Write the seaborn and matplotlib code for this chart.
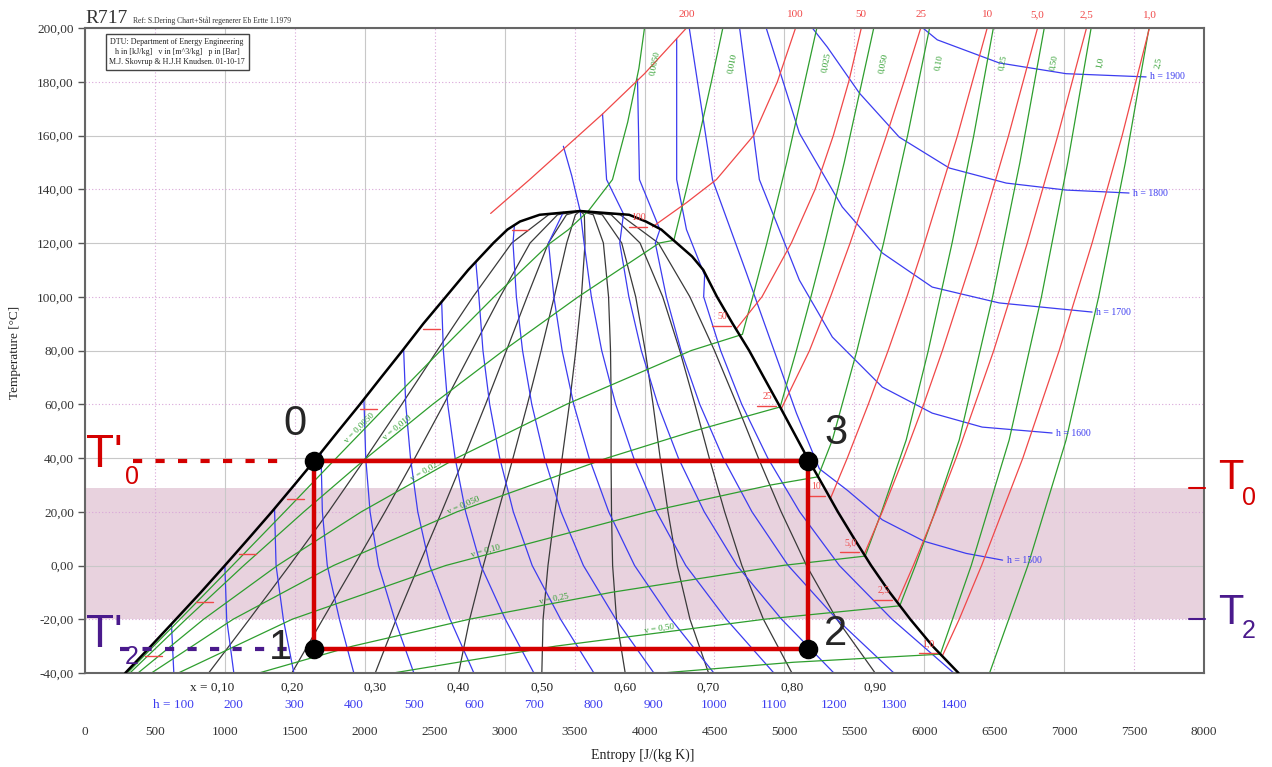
import numpy as np
import pandas as pd
import seaborn as sns
import matplotlib.pyplot as plt

sns.set_style('white')
plt.rcParams['font.family'] = ['Liberation Serif', 'DejaVu Serif']

# ---- saturation dome, s in J/(kg K), T in degC ----
liq_T = [-40, -30, -20, -10, 0, 10, 20, 30, 40, 50, 60, 70, 80, 90, 100, 110, 120, 125, 128, 130.5, 131.9]
liq_s = [288, 471, 650, 828, 1000, 1169, 1336, 1497, 1656, 1810, 1966, 2117, 2270, 2419, 2580, 2740, 2920, 3020, 3110, 3250, 3540]
vap_T = [131.9, 130.5, 128, 125, 120, 115, 110, 100, 90, 80, 70, 60, 50, 40, 30, 20, 10, 0, -10, -20, -30, -40]
vap_s = [3540, 3890, 4010, 4120, 4230, 4340, 4420, 4518, 4630, 4748, 4853, 4959, 5062, 5165, 5274, 5382, 5499, 5620, 5753, 5900, 6060, 6245]

# ---- quality lines ----
quality_labels = ['0,10', '0,20', '0,30', '0,40', '0,50', '0,60', '0,70', '0,80', '0,90']
quality_T = [-40, -20, 0, 20, 40, 60, 80, 100, 120, 130.5, 131.9]
quality_s = [
    [884, 1175, 1462, 1741, 2007, 2265, 2518, 2774, 3051, 3314, 3540],
    [1479, 1700, 1924, 2145, 2358, 2565, 2766, 2968, 3182, 3378, 3540],
    [2075, 2225, 2386, 2550, 2709, 2864, 3013, 3161, 3313, 3442, 3540],
    [2671, 2750, 2848, 2954, 3060, 3163, 3261, 3355, 3444, 3506, 3540],
    [3266, 3275, 3310, 3359, 3411, 3463, 3509, 3549, 3575, 3570, 3540],
    [3862, 3800, 3772, 3764, 3761, 3762, 3757, 3743, 3706, 3634, 3540],
    [4458, 4325, 4234, 4168, 4112, 4061, 4005, 3937, 3837, 3698, 3540],
    [5054, 4850, 4696, 4573, 4463, 4360, 4252, 4130, 3968, 3762, 3540],
    [5649, 5375, 5158, 4977, 4814, 4660, 4500, 4324, 4099, 3826, 3540],
]

# ---- isenthalps h = 100 .. 1400 kJ/kg (two-phase part) ----
h_levels = [100, 200, 300, 400, 500, 600, 700, 800, 900, 1000, 1100, 1200, 1300, 1400]
h_s = [
    [635, 618],
    [1064, 1013, 1000],
    [1493, 1418, 1366, 1355],
    [1922, 1819, 1732, 1697, 1687],
    [2351, 2214, 2098, 2038, 2007, 1994],
    [2780, 2610, 2464, 2379, 2327, 2293, 2278],
    [3209, 3005, 2830, 2721, 2646, 2593, 2562, 2550],
    [3638, 3400, 3197, 3062, 2965, 2893, 2845, 2816, 2794],
    [4067, 3795, 3563, 3403, 3285, 3194, 3128, 3084, 3060, 3070],
    [4496, 4190, 3929, 3744, 3604, 3494, 3411, 3352, 3314, 3420],
    [4925, 4585, 4295, 4086, 3923, 3794, 3694, 3620, 3568, 3540, 3480, 3420],
    [5354, 4980, 4661, 4427, 4242, 4095, 3977, 3888, 3823, 3850, 3729, 3700],
    [5783, 5375, 5027, 4768, 4562, 4395, 4261, 4156, 4077, 4110, 3964, 3950],
    [6211, 5770, 5393, 5109, 4881, 4695, 4544, 4423, 4430, 4300, 4230, 4230],
]
h_T = [
    [-40, -21.8],
    [-40, -20, 0],
    [-40, -20, 0, 21.2],
    [-40, -20, 0, 20, 42],
    [-40, -20, 0, 20, 40, 61.8],
    [-40, -20, 0, 20, 40, 60, 80.5],
    [-40, -20, 0, 20, 40, 60, 80, 98],
    [-40, -20, 0, 20, 40, 60, 80, 100, 113],
    [-40, -20, 0, 20, 40, 60, 80, 100, 120, 126.7],
    [-40, -20, 0, 20, 40, 60, 80, 100, 120, 131.5],
    [-40, -20, 0, 20, 40, 60, 80, 100, 120, 131.9, 145, 156],
    [-40, -20, 0, 20, 40, 60, 80, 100, 120, 130.8, 143.6, 168],
    [-40, -20, 0, 20, 40, 60, 80, 100, 120, 125, 143.6, 181],
    [-40, -20, 0, 20, 40, 60, 80, 100, 108, 125, 143.6, 196],
]

# ---- isenthalps in the superheated region ----
hs_levels = [1500, 1600, 1700, 1800, 1900]
hs_s = [
    [4320, 4486, 4729, 5086, 5250, 5450, 5700, 6000, 6300, 6560],
    [4680, 4821, 5107, 5343, 5700, 6057, 6414, 6914],
    [4870, 5107, 5414, 5700, 6057, 6536, 7200],
    [5200, 5307, 5536, 5821, 6179, 6586, 7014, 7464],
    [5990, 6093, 6536, 7014, 7586],
]
hs_T = [
    [200, 143.6, 108.8, 56.7, 36, 28, 17, 9, 4.5, 2],
    [200, 143.6, 106.2, 85, 66.4, 56.7, 51.5, 49.3],
    [200, 160.9, 133.4, 116.3, 103.6, 97.7, 94.3],
    [200, 192.9, 175.8, 159.4, 147.9, 142.3, 139.7, 138.6],
    [200, 195.6, 187, 183, 181.8],
]

# ---- isobars, p in bar ----
p_labels = ['1,0', '2,5', '5,0', '10', '25', '50', '100', '200']
p_s = [
    [6130, 6250, 6410, 6705, 6965, 7200, 7415, 7610],
    [5807, 5922, 6080, 6228, 6497, 6737, 6955, 7160],
    [5570, 5700, 5852, 5996, 6130, 6378, 6603, 6810],
    [5329, 5450, 5600, 5742, 5876, 6002, 6238, 6450],
    [4977, 5180, 5330, 5470, 5600, 5730, 5855, 5975],
    [4656, 4840, 5050, 5220, 5350, 5460, 5550],
    [4057, 4300, 4514, 4780, 4950, 5080],
    [2900, 3179, 3700, 4000, 4300],
]
p_T = [
    [-33.6, -20, 0, 40, 80, 120, 160, 200],
    [-13.7, 0, 20, 40, 80, 120, 160, 200],
    [4.1, 20, 40, 60, 80, 120, 160, 200],
    [24.9, 40, 60, 80, 100, 120, 160, 200],
    [58.2, 80, 100, 120, 140, 160, 180, 200],
    [88, 100, 120, 140, 160, 180, 200],
    [126, 135, 143.6, 160, 180, 200],
    [131, 143.6, 168, 183, 200],
]
# saturation points of the subcritical isobars (marks on the dome)
p_sat_T = [-33.6, -13.7, 4.1, 24.9, 58.2, 88, 125]
p_sat_liq = [398, 763, 1069, 1414, 1938, 2390, 3020]
p_sat_vap = [6130, 5807, 5570, 5329, 4977, 4656, 4057]

# ---- isochores, v in m3/kg ----
v_labels = ['0,0050', '0,010', '0,025', '0,050', '0,10', '0,25', '0,50', '1,0', '2,5']
v_s = [
    [302, 679, 1055, 1428, 1797, 2168, 2543, 2925, 3327, 3457, 3600, 3771, 3880, 3960, 4000],
    [321, 722, 1135, 1565, 2012, 2486, 2992, 3527, 4106, 4210, 4300, 4392, 4478, 4560],
    [379, 848, 1376, 1976, 2658, 3443, 4335, 4700, 4774, 4875, 5017, 5232],
    [475, 1059, 1777, 2661, 3733, 4350, 4970, 5086, 5190, 5289, 5428, 5639],
    [667, 1481, 2579, 4030, 4908, 5240, 5343, 5519, 5709, 5881, 6038],
    [1243, 1914, 2747, 3763, 4986, 5578, 5695, 5871, 6029, 6199, 6354, 6494],
    [2203, 3366, 4856, 5825, 5937, 6077, 6250, 6489, 6684, 6858],
    [4124, 5066, 6115, 6336, 6607, 6838, 7026, 7193],
    [6467, 6741, 7014, 7247, 7438, 7607],
]
v_T = [
    [-40, -20, 0, 20, 40, 60, 80, 100, 120, 125, 132, 143.6, 165, 185, 200],
    [-40, -20, 0, 20, 40, 60, 80, 100, 120, 121, 140, 160, 180, 200],
    [-40, -20, 0, 20, 40, 60, 80, 86, 100, 120, 150, 200],
    [-40, -20, 0, 20, 40, 50, 59, 80, 100, 120, 150, 200],
    [-40, -20, 0, 20, 30, 33, 46.7, 80, 120, 160, 200],
    [-40, -30, -20, -10, 0, 3.5, 20, 46.7, 80, 120, 160, 200],
    [-40, -30, -20, -15, 0, 20, 46.7, 100, 150, 200],
    [-40, -36, -33, 0, 46.7, 100, 150, 200],
    [-40, 0, 46.7, 100, 150, 200],
]

# ---- cycle and temperature band ----
cycle_names = ['0', '1', '2', '3']
cycle_s = [1640, 1640, 5170, 5170]
cycle_T = [39, -31, -31, 39]
band_T = [-20, 29]

RED = '#d40000'
PURPLE = '#4a1a8c'
C_Q = '#3a3a3a'
C_H = '#3c3cf0'
C_V = '#2e9e2e'
C_P = '#f04848'


def long_frame(names, s_lists, t_lists):
    rows = []
    for n, ss, tt in zip(names, s_lists, t_lists):
        for s, t in zip(ss, tt):
            rows.append((str(n), s, t))
    return pd.DataFrame(rows, columns=['curve', 's', 'T'])


fig = plt.figure(figsize=(12.72, 7.67), dpi=100)
ax = fig.add_axes([85 / 1272, 94 / 767, 1119 / 1272, 645 / 767])
ax.set_xlim(0, 8000)
ax.set_ylim(-40, 200)

ax.axhspan(band_T[0], band_T[1], color='#e8d2de', lw=0, zorder=0.5)
for s in range(0, 8001, 500):
    if s % 1000 == 0:
        ax.axvline(s, color='#c8c8c8', lw=0.8, zorder=0.6)
    else:
        ax.axvline(s, color='#d9a6d9', lw=0.8, ls=(0, (1, 2)), zorder=0.6)
for t in range(-40, 201, 20):
    if t % 40 == 0:
        ax.axhline(t, color='#c8c8c8', lw=0.8, zorder=0.6)
    else:
        ax.axhline(t, color='#d9a6d9', lw=0.8, ls=(0, (1, 2)), zorder=0.6)

common = dict(x='s', y='T', units='curve', estimator=None, sort=False, legend=False, ax=ax)
sns.lineplot(data=long_frame(quality_labels, quality_s, [quality_T] * 9), color=C_Q, lw=0.9, zorder=2, **common)
sns.lineplot(data=long_frame(h_levels, h_s, h_T), color=C_H, lw=0.9, zorder=2, **common)
sns.lineplot(data=long_frame(hs_levels, hs_s, hs_T), color=C_H, lw=0.9, zorder=2, **common)
sns.lineplot(data=long_frame(v_labels, v_s, v_T), color=C_V, lw=0.9, zorder=2, **common)
sns.lineplot(data=long_frame(p_labels, p_s, p_T), color=C_P, lw=0.9, zorder=2, **common)
sns.lineplot(data=long_frame(['liq', 'vap'], [liq_s, vap_s], [liq_T, vap_T]), color='black', lw=1.8, zorder=3, **common)

# isobar marks on the dome
for lab, t, sl, sv in zip(p_labels, p_sat_T, p_sat_liq, p_sat_vap):
    ax.plot([sl + 30, sl + 150], [t, t], color=C_P, lw=1.0, zorder=2.5)
    ax.plot([sv - 170, sv - 40], [t + 1, t + 1], color=C_P, lw=1.0, zorder=2.5)
    ax.text(sv - 100, t + 4.5, lab, color=C_P, fontsize=7, ha='center', va='center', zorder=4)
for lab, ss in zip(p_labels, p_s):
    ax.text(ss[-1], 205, lab, color=C_P, fontsize=8, ha='center', va='center', clip_on=False)

# isochore labels
for lab, ss in zip(v_labels, v_s):
    ax.text(ss[-1] + 30, 187, lab, color=C_V, fontsize=6.5, rotation=78, ha='left', va='center')
v_inner = [(1983, 50, 45), (2249, 50, 39), (2453, 34, 30), (2715, 21, 23), (2869, 4, 15), (3357, -14, 11), (4111, -25, 8)]
for lab, (s, t, r) in zip(v_labels, v_inner):
    ax.text(s, t, 'v = ' + lab, color=C_V, fontsize=6.5, rotation=r, ha='center', va='bottom',
            rotation_mode='anchor', zorder=4)

# isenthalp labels
for h, ss, tt in zip(hs_levels, hs_s, hs_T):
    ax.text(ss[-1] + 30, tt[-1], 'h = %d' % h, color=C_H, fontsize=7, ha='left', va='center')
for i, (h, ss) in enumerate(zip(h_levels, h_s)):
    ax.text(ss[0], -51.9, ('h = %d' % h) if i == 0 else str(h), color=C_H, fontsize=9.5,
            ha='center', va='center', clip_on=False)
for i, (lab, ss) in enumerate(zip(quality_labels, quality_s)):
    ax.text(ss[0] + (25 if i == 0 else 0), -45.6, ('x = ' + lab) if i == 0 else lab, color='#222222',
            fontsize=9.5, ha='center', va='center', clip_on=False)

# cycle 0-1-2-3-0
cycle_df = pd.DataFrame({'s': cycle_s + cycle_s[:1], 'T': cycle_T + cycle_T[:1], 'curve': 'cycle'})
sns.lineplot(data=cycle_df, x='s', y='T', units='curve', estimator=None, sort=False, color=RED, lw=3.2,
             zorder=4, legend=False, ax=ax)
sns.scatterplot(x=cycle_s, y=cycle_T, s=170, color='black', edgecolor='black', zorder=6, ax=ax, legend=False)
lab_off = [(-140, 13.6), (-240, 0.3), (194, 5.5), (201, 10.3)]
for name, s, t, (ds, dt) in zip(cycle_names, cycle_s, cycle_T, lab_off):
    ax.text(s + ds, t + dt, name, fontsize=30, family='Liberation Sans', ha='center', va='center', zorder=7)

ax.plot([343, 1400], [cycle_T[0], cycle_T[0]], color=RED, lw=3, ls=(0, (2.2, 3.2)), zorder=3)
ax.plot([250, 1540], [cycle_T[1], cycle_T[1]], color=PURPLE, lw=3, ls=(0, (2.2, 3.2)), zorder=3)
ax.text(8, 41, "T'", color=RED, fontsize=33, family='Liberation Sans', ha='left', va='center', zorder=7)
ax.text(336, 33, '0', color=RED, fontsize=18, family='Liberation Sans', ha='center', va='center', zorder=7)
ax.text(8, -26, "T'", color=PURPLE, fontsize=33, family='Liberation Sans', ha='left', va='center', zorder=7)
ax.text(336, -34, '2', color=PURPLE, fontsize=18, family='Liberation Sans', ha='center', va='center', zorder=7)

ax.plot([7890, 8010], [band_T[1], band_T[1]], color=RED, lw=1.5, clip_on=False, zorder=7)
ax.plot([7890, 8010], [band_T[0], band_T[0]], color=PURPLE, lw=1.5, clip_on=False, zorder=7)
ax.text(8193, 32.5, 'T', color=RED, fontsize=30, family='Liberation Sans', ha='center', va='center')
ax.text(8321, 25, '0', color=RED, fontsize=18, family='Liberation Sans', ha='center', va='center')
ax.text(8193, -17.5, 'T', color=PURPLE, fontsize=30, family='Liberation Sans', ha='center', va='center')
ax.text(8321, -24.5, '2', color=PURPLE, fontsize=18, family='Liberation Sans', ha='center', va='center')

# axes styling
ax.set_xticks(range(0, 8001, 500))
ax.set_xticklabels([str(v) for v in range(0, 8001, 500)])
ax.set_yticks(range(-40, 201, 20))
ax.set_yticklabels([('%.2f' % v).replace('.', ',') for v in range(-40, 201, 20)])
ax.tick_params(axis='x', length=0, pad=38, labelsize=9.5, labelcolor='#333333')
ax.tick_params(axis='y', length=5, width=1, color='#555555', pad=3, labelsize=9.5, labelcolor='#333333', left=True)
ax.set_xlabel('')
ax.set_ylabel('')
for sp in ax.spines.values():
    sp.set_color('#666666')
    sp.set_linewidth(1.5)

fig.text(15 / 1272, 1 - 352 / 767, 'Temperature [\u00b0C]', rotation=90, fontsize=9.5, ha='center', va='center', color='#222222')
fig.text(643 / 1272, 1 - 755 / 767, 'Entropy [J/(kg K)]', fontsize=10, ha='center', va='center', color='#222222')
fig.text(85 / 1272, 1 - 23 / 767, 'R717', fontsize=14, ha='left', va='baseline', color='#333333')
fig.text(133 / 1272, 1 - 23 / 767, 'Ref: S.Dering Chart+Stål regenerer Eb Ertte 1.1979', fontsize=5.5,
         ha='left', va='baseline', color='#333333')
fig.text(177 / 1272, 1 - 52 / 767,
         'DTU: Department of Energy Engineering\nh in [kJ/kg]   v in [m^3/kg]   p in [Bar]\nM.J. Skovrup & H.J.H Knudsen. 01-10-17',
         fontsize=5.8, ha='center', va='center', linespacing=1.4, color='#222222',
         bbox=dict(boxstyle='square,pad=0.45', fc='white', ec='#444444', lw=1), zorder=10)

fig.savefig('out.png', dpi=100)
